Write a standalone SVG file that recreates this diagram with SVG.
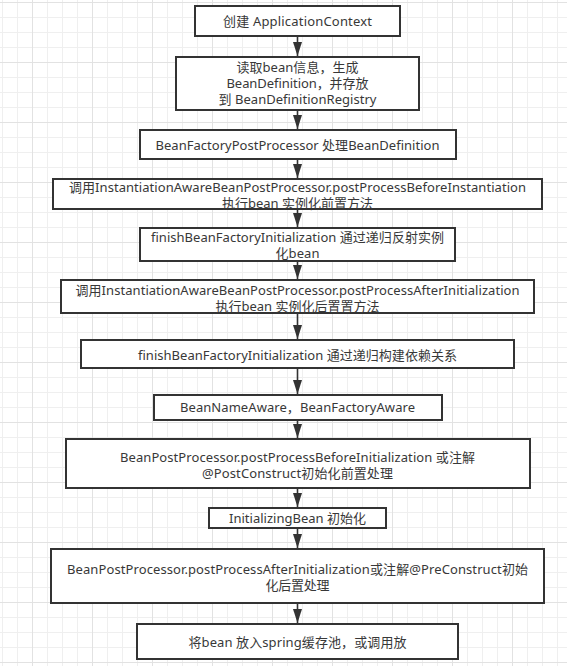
<svg xmlns="http://www.w3.org/2000/svg" width="567" height="666" viewBox="0 0 567 666">
  <defs>
    <!-- background grid: minor every 15px, major every 60px -->
    <pattern id="grid" patternUnits="userSpaceOnUse" x="32" y="2" width="60" height="60">
      <path d="M15.5 0V60M30.5 0V60M45.5 0V60M0 15.5H60M0 30.5H60M0 45.5H60" stroke="#efefef" stroke-width="1" fill="none"/>
      <path d="M0.5 0V60M0 0.5H60" stroke="#e2e2e2" stroke-width="1" fill="none"/>
    </pattern>
    <marker id="arrow" markerUnits="userSpaceOnUse" markerWidth="15" markerHeight="10" refX="14" refY="4.5" orient="auto">
      <path d="M0 0L14 4.5L0 9z" fill="#333"/>
    </marker>
    <style>
      .box { fill: #fff; stroke: #333; stroke-width: 2; }
      .lbl { font-family: "Noto Sans", "Noto Sans CJK SC", sans-serif; font-size: 13px; fill: #383838; text-anchor: middle; }
      .edge { stroke: #333; stroke-width: 1.6; fill: none; marker-end: url(#arrow); }
    </style>
  </defs>

  <rect width="567" height="666" fill="#fff"/>
  <rect width="567" height="666" fill="url(#grid)"/>

  <g id="connectors">
    <line class="edge" x1="297.5" y1="37" x2="297.5" y2="56"/>
    <line class="edge" x1="297.5" y1="111" x2="297.5" y2="129"/>
    <line class="edge" x1="297.5" y1="160" x2="297.5" y2="178"/>
    <line class="edge" x1="297.5" y1="210" x2="297.5" y2="227"/>
    <line class="edge" x1="297.5" y1="262" x2="297.5" y2="279"/>
    <line class="edge" x1="297.5" y1="314" x2="297.5" y2="339"/>
    <line class="edge" x1="297.5" y1="369" x2="297.5" y2="394"/>
    <line class="edge" x1="297.5" y1="421" x2="297.5" y2="438"/>
    <line class="edge" x1="297.5" y1="489" x2="297.5" y2="507"/>
    <line class="edge" x1="297.5" y1="529" x2="297.5" y2="548"/>
    <line class="edge" x1="297.5" y1="604" x2="297.5" y2="623"/>
  </g>

  <g id="create-context">
    <rect class="box" x="195" y="6" width="205" height="30"/>
    <text class="lbl" x="297.5" y="26" textLength="149">创建 ApplicationContext</text>
  </g>

  <g id="read-bean-definition">
    <rect class="box" x="176" y="57" width="243" height="53"/>
    <text class="lbl" x="297.5" y="71.5" textLength="122">读取bean信息，生成</text>
    <text class="lbl" x="297.5" y="88" textLength="142">BeanDefinition，并存放</text>
    <text class="lbl" x="297.5" y="104" textLength="158">到 BeanDefinitionRegistry</text>
  </g>

  <g id="factory-post-processor">
    <rect class="box" x="140" y="130" width="316" height="29"/>
    <text class="lbl" x="297.5" y="149.5" textLength="284">BeanFactoryPostProcessor 处理BeanDefinition</text>
  </g>

  <g id="before-instantiation">
    <rect class="box" x="53" y="179" width="489" height="30"/>
    <text class="lbl" x="297.5" y="191.5" textLength="457">调用InstantiationAwareBeanPostProcessor.postProcessBeforeInstantiation</text>
    <text class="lbl" x="297.5" y="207.5" textLength="151">执行bean 实例化前置方法</text>
  </g>

  <g id="instantiate-bean">
    <rect class="box" x="140" y="228" width="315" height="33"/>
    <text class="lbl" x="297.5" y="241.5" textLength="293">finishBeanFactoryInitialization 通过递归反射实例</text>
    <text class="lbl" x="297.5" y="257.5" textLength="44">化bean</text>
  </g>

  <g id="after-instantiation">
    <rect class="box" x="61" y="280" width="473" height="33"/>
    <text class="lbl" x="297.5" y="295" textLength="444">调用InstantiationAwareBeanPostProcessor.postProcessAfterInitialization</text>
    <text class="lbl" x="297.5" y="310.5" textLength="164">执行bean 实例化后置置方法</text>
  </g>

  <g id="build-dependencies">
    <rect class="box" x="81" y="340" width="433" height="28"/>
    <text class="lbl" x="297.5" y="359.5" textLength="319">finishBeanFactoryInitialization 通过递归构建依赖关系</text>
  </g>

  <g id="aware">
    <rect class="box" x="154" y="395" width="288" height="25"/>
    <text class="lbl" x="297.5" y="412" textLength="235">BeanNameAware，BeanFactoryAware</text>
  </g>

  <g id="before-initialization">
    <rect class="box" x="66" y="439" width="464" height="49"/>
    <text class="lbl" x="297.5" y="461.5" textLength="355">BeanPostProcessor.postProcessBeforeInitialization 或注解</text>
    <text class="lbl" x="297.5" y="477.5" textLength="191">@PostConstruct初始化前置处理</text>
  </g>

  <g id="initializing-bean">
    <rect class="box" x="209" y="508" width="177" height="20"/>
    <text class="lbl" x="297.5" y="523" textLength="137">InitializingBean 初始化</text>
  </g>

  <g id="after-initialization">
    <rect class="box" x="51" y="549" width="493" height="54"/>
    <text class="lbl" x="297.5" y="573.5" textLength="461">BeanPostProcessor.postProcessAfterInitialization或注解@PreConstruct初始</text>
    <text class="lbl" x="297.5" y="589.5" textLength="64">化后置处理</text>
  </g>

  <g id="cache-bean">
    <rect class="box" x="137" y="624" width="321" height="35"/>
    <text class="lbl" x="297.5" y="646.5" textLength="218">将bean 放入spring缓存池，或调用放</text>
  </g>
</svg>
